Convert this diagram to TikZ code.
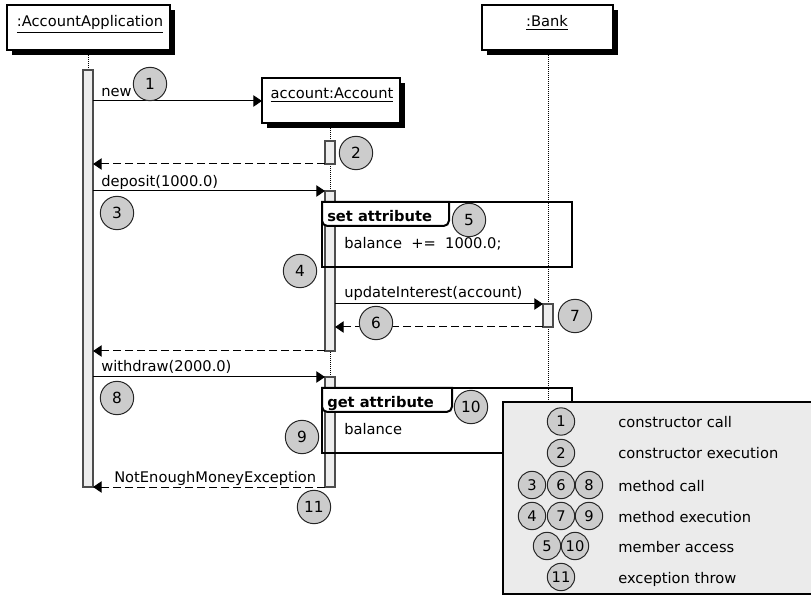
\documentclass[tikz,border=0pt]{standalone}
\usepackage{fontspec}
\setmainfont{DejaVu Sans}
\usetikzlibrary{arrows.meta}

\tikzset{
  objbox/.style={draw=black, line width=1.1pt, fill=white},
  objshadow/.style={fill=black},
  actbar/.style={draw=black!70, line width=0.8pt, fill=black!7},
  lifeline/.style={line width=0.75pt, dash pattern=on 0.75pt off 0.75pt},
  msg/.style={line width=0.75pt, -{Triangle[length=6.5pt,width=8.5pt]}},
  retmsg/.style={msg, dash pattern=on 6pt off 3pt},
  num/.style={circle, draw=black!85, line width=0.75pt, fill=black!20,
    inner sep=0pt, minimum size=25pt, font=\fontsize{11.5}{13}\selectfont},
  lnum/.style={num, minimum size=20.5pt, font=\fontsize{11}{13}\selectfont},
  fragment/.style={line width=1.5pt},
  txt/.style={anchor=base west, inner sep=0pt},
  objname/.style={anchor=base, inner sep=0pt},
}

\begin{document}
\begin{tikzpicture}[x=0.75pt, y=-0.75pt, font=\fontsize{11}{13}\selectfont]
\useasboundingbox (0,0) rectangle (811,595);

% ---- lifelines
\draw[lifeline] (88,55) -- (88,70);
\draw[lifeline] (330,128) -- (330,487);
\draw[lifeline] (548,55) -- (548,595);

% ---- objects (with drop shadow)
\fill[objshadow] (12,10) rectangle (175,55);
\draw[objbox] (7,5) rectangle (170,50);
\node[objname] (app) at (90,27) {\underline{:AccountApplication}};

\fill[objshadow] (267,83) rectangle (405,128);
\draw[objbox] (262,78) rectangle (400,123);
\node[objname] (acc) at (332,99) {\underline{account:Account}};

\fill[objshadow] (487,10) rectangle (618,55);
\draw[objbox] (482,5) rectangle (613,50);
\node[objname] (bank) at (547,27) {\underline{:Bank}};

% ---- activation bars
\draw[actbar] (83,70) rectangle (93,487);
\draw[actbar] (325,141) rectangle (335,164);
\draw[actbar] (325,191) rectangle (335,351);
\draw[actbar] (325,377) rectangle (335,487);
\draw[actbar] (543,304) rectangle (553,327);

% ---- message end points
\coordinate (newS) at (93,101);   \coordinate (newE) at (262,101);
\coordinate (r1S) at (325,164);   \coordinate (r1E) at (93,164);
\coordinate (depS) at (93,191);   \coordinate (depE) at (325,191);
\coordinate (updS) at (335,304);  \coordinate (updE) at (543,304);
\coordinate (r2S) at (543,327);   \coordinate (r2E) at (335,327);
\coordinate (r3S) at (325,351);   \coordinate (r3E) at (93,351);
\coordinate (wdS) at (93,377);    \coordinate (wdE) at (325,377);
\coordinate (exS) at (325,487);   \coordinate (exE) at (93,487);

% ---- messages
\draw[msg] (newS) -- (newE);
\node[txt] (lnew) at (101,97) {new};
\draw[retmsg] (r1S) -- (r1E);
\draw[msg] (depS) -- (depE);
\node[txt] (ldep) at (101,187) {deposit(1000.0)};
\draw[msg] (updS) -- (updE);
\node[txt] (lupd) at (344,298) {updateInterest(account)};
\draw[retmsg] (r2S) -- (r2E);
\draw[retmsg] (r3S) -- (r3E);
\draw[msg] (wdS) -- (wdE);
\node[txt] (lwd) at (101,372) {withdraw(2000.0)};
\draw[retmsg] (exS) -- (exE);
\node[txt] (lex) at (114,482) {NotEnoughMoneyException};

% ---- set attribute fragment
\draw[fragment] (322,202) rectangle (572,267);
\filldraw[fragment, fill=white, rounded corners=4pt]
  (322,202) -- (322,226) -- (449,226) [sharp corners] -- (449,202) -- cycle;
\node[txt, font=\fontsize{11}{13}\selectfont\bfseries] (setl) at (327,222) {set attribute};
\node[txt] (setb) at (344,249) {balance\ \ +=\ \ 1000.0;};

% ---- get attribute fragment
\draw[fragment] (322,388) rectangle (572,453);
\filldraw[fragment, fill=white, rounded corners=4pt]
  (322,388) -- (322,412) -- (452,412) [sharp corners] -- (452,388) -- cycle;
\node[txt, font=\fontsize{11}{13}\selectfont\bfseries] (getl) at (327,407) {get attribute};
\node[txt] (getb) at (344,435) {balance};

% ---- numbered markers
\node[num] (c1) at (150,84) {1};
\node[num] (c2) at (356,153) {2};
\node[num] (c3) at (117,213) {3};
\node[num] (c4) at (300,271) {4};
\node[num] (c5) at (469,220) {5};
\node[num] (c6) at (376,323) {6};
\node[num] (c7) at (575,316) {7};
\node[num] (c8) at (117,398) {8};
\node[num] (c9) at (302,437) {9};
\node[num] (c10) at (471,407) {10};
\node[num] (c11) at (314,507) {11};

% ---- legend
\filldraw[line width=1.5pt, fill=black!8] (503,402) rectangle (813,594);
\node[lnum] (l1) at (561,421.5) {1};
\node[txt] (t1) at (618,427.5) {constructor call};
\node[lnum] (l2) at (561,453) {2};
\node[txt] (t2) at (618,459) {constructor execution};
\node[lnum] (l3) at (532,485) {3};
\node[lnum] (l6) at (561,485) {6};
\node[lnum] (l8) at (589,485) {8};
\node[txt] (t3) at (618,491) {method call};
\node[lnum] (l4) at (532,516) {4};
\node[lnum] (l7) at (561,516) {7};
\node[lnum] (l9) at (589,516) {9};
\node[txt] (t4) at (618,522) {method execution};
\node[lnum] (l5) at (547,546) {5};
\node[lnum] (l10) at (575,546) {10};
\node[txt] (t5) at (618,552) {member access};
\node[lnum] (l11) at (561,577) {11};
\node[txt] (t6) at (618,583) {exception throw};
\end{tikzpicture}
\end{document}
